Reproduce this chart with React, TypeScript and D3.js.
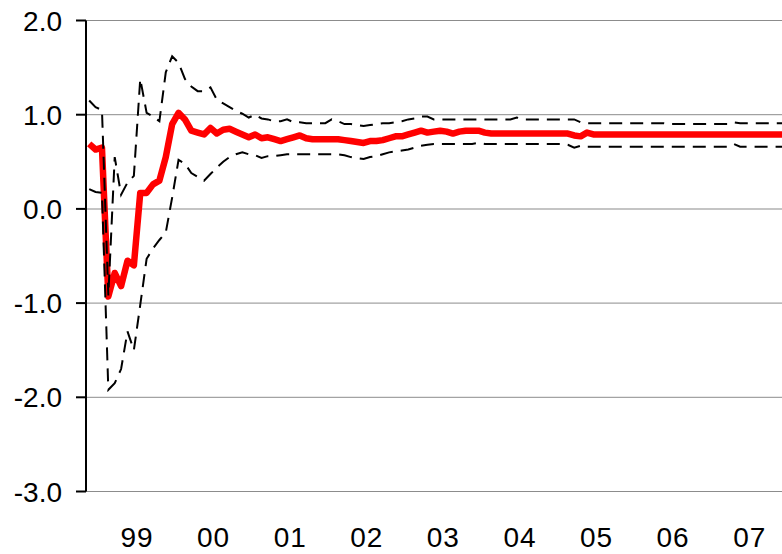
import React from 'react';
import * as d3 from 'd3';

// monthly series, first point Nov 1998, last Dec 2007
const startYear = 1998;
const startMonth = 11;

const central = [
  0.69, 0.63, 0.65, -0.93, -0.68, -0.82, -0.55, -0.60, 0.17, 0.17,
  0.26, 0.30, 0.55, 0.90, 1.02, 0.95, 0.83, 0.81, 0.79, 0.86,
  0.80, 0.84, 0.85, 0.82, 0.79, 0.76, 0.79, 0.75, 0.76, 0.74,
  0.72, 0.74, 0.76, 0.78, 0.75, 0.74, 0.74, 0.74, 0.74, 0.74,
  0.73, 0.72, 0.71, 0.70, 0.72, 0.72, 0.73, 0.75, 0.77, 0.77,
  0.79, 0.81, 0.83, 0.81, 0.82, 0.83, 0.82, 0.80, 0.82, 0.83,
  0.83, 0.83, 0.81, 0.80, 0.80, 0.80, 0.80, 0.80, 0.80, 0.80,
  0.80, 0.80, 0.80, 0.80, 0.80, 0.80, 0.78, 0.77, 0.81, 0.79,
  0.79, 0.79, 0.79, 0.79, 0.79, 0.79, 0.79, 0.79, 0.79, 0.79,
  0.79, 0.79, 0.79, 0.79, 0.79, 0.79, 0.79, 0.79, 0.79, 0.79,
  0.79, 0.79, 0.79, 0.79, 0.79, 0.79, 0.79, 0.79, 0.79, 0.79,
];

const upper = [
  1.15, 1.08, 1.05, -0.92, 0.55, 0.15, 0.28, 0.35, 1.38, 1.02,
  0.98, 0.93, 1.45, 1.62, 1.55, 1.38, 1.30, 1.25, 1.25, 1.29,
  1.16, 1.12, 1.08, 1.04, 1.01, 0.97, 1.00, 0.96, 0.95, 0.93,
  0.93, 0.95, 0.92, 0.92, 0.91, 0.91, 0.91, 0.91, 0.95, 0.93,
  0.90, 0.90, 0.89, 0.88, 0.89, 0.90, 0.91, 0.91, 0.92, 0.93,
  0.95, 0.96, 0.98, 0.98, 0.95, 0.95, 0.95, 0.95, 0.95, 0.95,
  0.95, 0.95, 0.95, 0.95, 0.95, 0.95, 0.95, 0.97, 0.95, 0.95,
  0.95, 0.95, 0.95, 0.95, 0.95, 0.95, 0.95, 0.92, 0.91, 0.91,
  0.91, 0.91, 0.91, 0.91, 0.91, 0.91, 0.91, 0.91, 0.91, 0.91,
  0.91, 0.90, 0.90, 0.90, 0.90, 0.90, 0.90, 0.90, 0.90, 0.90,
  0.90, 0.92, 0.91, 0.91, 0.91, 0.91, 0.91, 0.91, 0.91, 0.91,
];

const lower = [
  0.21, 0.18, 0.17, -1.92, -1.85, -1.70, -1.30, -1.50, -1.02, -0.53,
  -0.42, -0.33, -0.25, 0.12, 0.52, 0.48, 0.38, 0.34, 0.30, 0.37,
  0.44, 0.50, 0.55, 0.58, 0.60, 0.58, 0.57, 0.54, 0.56, 0.56,
  0.57, 0.58, 0.58, 0.58, 0.58, 0.58, 0.58, 0.58, 0.58, 0.58,
  0.57, 0.55, 0.54, 0.53, 0.55, 0.56, 0.58, 0.60, 0.61, 0.62,
  0.63, 0.65, 0.67, 0.68, 0.69, 0.69, 0.69, 0.69, 0.69, 0.69,
  0.69, 0.70, 0.69, 0.69, 0.69, 0.69, 0.69, 0.69, 0.69, 0.69,
  0.69, 0.69, 0.69, 0.69, 0.69, 0.68, 0.65, 0.67, 0.66, 0.66,
  0.66, 0.66, 0.66, 0.66, 0.66, 0.66, 0.66, 0.66, 0.66, 0.66,
  0.66, 0.66, 0.66, 0.66, 0.66, 0.66, 0.66, 0.66, 0.66, 0.66,
  0.66, 0.69, 0.66, 0.66, 0.66, 0.66, 0.66, 0.66, 0.66, 0.66,
];

const yearLabels = ['99', '00', '01', '02', '03', '04', '05', '06', '07'];
const yTicks = [2, 1, 0, -1, -2, -3];

const W = 782;
const H = 554;
const font = '"Liberation Sans", Arial, sans-serif';

export default function App() {
  const n = central.length;
  const x = d3.scaleLinear().domain([0, n]).range([86, 788]);
  const y = d3.scaleLinear().domain([-3, 2]).range([491.5, 20.5]);

  const line = d3
    .line<number>()
    .x((d, i) => x(i + 0.5))
    .y((d) => y(d));

  // index of January for a two-digit year label
  const janIndex = (lab: string) => {
    const yr = +lab < 50 ? 2000 + +lab : 1900 + +lab;
    return (yr - startYear) * 12 + (1 - startMonth);
  };

  return (
    <svg
      width={W}
      height={H}
      style={{ position: 'absolute', left: 0, top: 0, background: '#fff' }}
    >
      <defs>
        <clipPath id="plot">
          <rect x={86} y={0} width={W - 86} height={H} />
        </clipPath>
      </defs>

      {yTicks.map((t) => (
        <line
          key={'g' + t}
          x1={86}
          x2={W}
          y1={y(t)}
          y2={y(t)}
          stroke={t === 0 ? '#c4c4c4' : '#8c8c8c'}
          strokeWidth={t === 0 ? 2 : 1}
        />
      ))}

      <g clipPath="url(#plot)">
        <path d={line(central) || ''} fill="none" stroke="#ff0000" strokeWidth={6.5} strokeLinejoin="round" />
        <path d={line(upper) || ''} fill="none" stroke="#000" strokeWidth={2} strokeDasharray="13,8" />
        <path d={line(lower) || ''} fill="none" stroke="#000" strokeWidth={2} strokeDasharray="13,8" />
      </g>

      <line x1={86} x2={86} y1={y(2)} y2={y(-3)} stroke="#000" strokeWidth={2} />
      {yTicks.map((t) => (
        <g key={'t' + t}>
          <line x1={76} x2={86} y1={y(t)} y2={y(t)} stroke="#000" strokeWidth={2} />
          <text
            x={62}
            y={y(t)}
            dy="0.36em"
            textAnchor="end"
            fontFamily={font}
            fontSize={28}
            fill="#000"
          >
            {d3.format('.1f')(t).replace('−', '-')}
          </text>
        </g>
      ))}

      {yearLabels.map((lab) => (
        <text
          key={'x' + lab}
          x={x(janIndex(lab) + 6)}
          y={547}
          textAnchor="middle"
          fontFamily={font}
          fontSize={28}
          fill="#000"
          letterSpacing={1}
        >
          {lab}
        </text>
      ))}
    </svg>
  );
}
